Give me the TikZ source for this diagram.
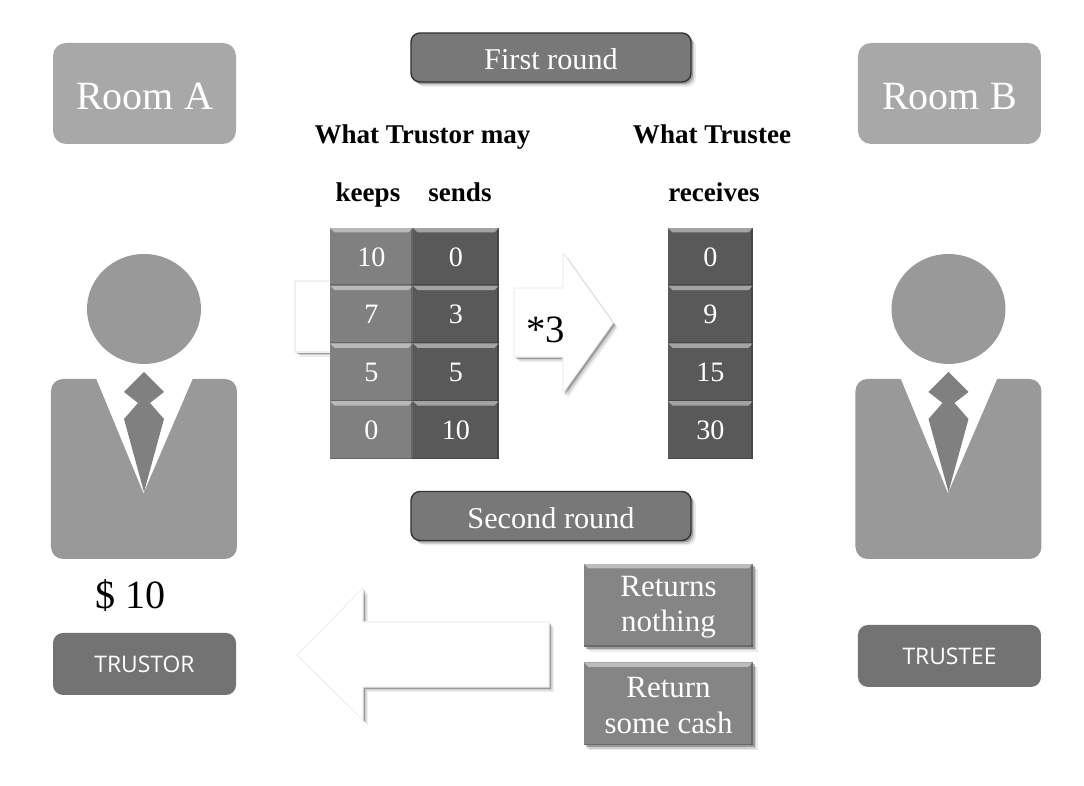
\documentclass[tikz,border=0pt]{standalone}
\usepackage{fontspec}
\setmainfont{Liberation Serif}
\newfontfamily\labelfont{Open Sans}
\usetikzlibrary{shadows}
\definecolor{roomgray}{gray}{0.66}
\definecolor{bodygray}{gray}{0.6}
\definecolor{tiegray}{gray}{0.5}
\definecolor{headgray}{gray}{0.47}
\definecolor{keepgray}{gray}{0.5}
\definecolor{sendgray}{gray}{0.35}
\definecolor{taggray}{gray}{0.45}
\tikzset{
    softshadow/.style={
        drop shadow={shadow xshift=0.05cm,shadow yshift=-0.05cm,opacity=0.07,fill=black},
        drop shadow={shadow xshift=0.035cm,shadow yshift=-0.035cm,opacity=0.12,fill=black},
        drop shadow={shadow xshift=0.02cm,shadow yshift=-0.02cm,opacity=0.25,fill=black}},
    roombox/.style={rounded corners=0.13cm,fill=roomgray,text=white,minimum width=1.83cm,minimum height=1.01cm,inner sep=0pt,font=\fontsize{11.4}{13}\selectfont},
    tagbox/.style={rounded corners=0.1cm,fill=taggray,text=white,minimum width=1.83cm,minimum height=0.62cm,inner sep=0pt,font=\labelfont\fontsize{6.5}{8}\selectfont},
    headbox/.style={rounded corners=0.09cm,draw=black!80,fill=headgray,text=white,minimum width=2.8cm,minimum height=0.49cm,inner sep=0pt,font=\fontsize{8.6}{10}\selectfont,softshadow},
    tile/.style={fill=#1,text=white,minimum height=0.58cm,inner sep=0pt,font=\fontsize{8}{10}\selectfont,
        path picture={
            \fill[white,opacity=0.45] (path picture bounding box.north west) -- (path picture bounding box.north east)
                -- ([xshift=-0.045cm,yshift=-0.045cm]path picture bounding box.north east) -- ([xshift=0.045cm,yshift=-0.045cm]path picture bounding box.north west) -- cycle;
            \fill[black,opacity=0.2] (path picture bounding box.north east) rectangle ([xshift=-0.02cm]path picture bounding box.south east);
            \fill[black,opacity=0.2] (path picture bounding box.south west) rectangle ([yshift=0.015cm]path picture bounding box.south east);
        }},
    returnbox/.style={tile=headgray!90,minimum width=1.69cm,minimum height=0.83cm,align=center,font=\fontsize{8.8}{10.2}\selectfont,softshadow},
    whitearrow/.style={fill=white,draw=black!6,line width=0.3pt,softshadow},
    title/.style={font=\bfseries\fontsize{7.7}{9}\selectfont,inner sep=0pt,anchor=base}
}
\newcommand{\lowered}[2]{\raisebox{#1}[0pt][0pt]{#2}}
\begin{document}
\begin{tikzpicture}
    \useasboundingbox (0,-7.86) rectangle (10.84,0);
    \fill[white] (0,-7.86) rectangle (10.84,0);
    % rooms
    \node[roombox] (roomA) at (1.445,-0.935) {\lowered{-0.16cm}{Room A}};
    \node[roombox] (roomB) at (9.495,-0.935) {\lowered{-0.16cm}{Room B}};
    % both persons
    \foreach \px/\pname in {0/trustor,8.045/trustee}{
        \begin{scope}[xshift=\px cm]
            \fill[bodygray] (1.44,-3.09) ellipse (0.57 and 0.55);
            \fill[bodygray,rounded corners=0.12cm] (0.51,-3.79) rectangle (2.37,-5.59);
            \fill[white] (0.96,-3.78) -- (1.435,-4.93) -- (1.93,-3.78) -- cycle;
            \fill[tiegray] (1.44,-3.72) -- (1.64,-3.92) -- (1.5,-4.03) -- (1.64,-4.19) -- (1.44,-4.92) -- (1.24,-4.19) -- (1.38,-4.03) -- (1.24,-3.92) -- cycle;
        \end{scope}
    }
    \node[tagbox] (trustor) at (1.445,-6.64) {TRUSTOR};
    \node[tagbox] (trustee) at (9.495,-6.56) {TRUSTEE};
    \node[font=\fontsize{11.4}{13}\selectfont,inner sep=0pt] (cash) at (1.305,-5.96) {\$ 10};
    % round headers
    \node[headbox] (first) at (5.51,-0.575) {\lowered{-0.12cm}{First round}};
    \node[headbox] (second) at (5.51,-5.16) {\lowered{-0.13cm}{Second round}};
    % column titles
    \node[title] (trustormay) at (4.225,-1.44) {What Trustor may};
    \node[title] (trusteemay) at (7.12,-1.44) {What Trustee};
    \node[title] (keeps) at (3.68,-2.02) {keeps};
    \node[title] (sends) at (4.6,-2.02) {sends};
    \node[title] (receives) at (7.14,-2.02) {receives};
    % white box behind the table
    \draw[whitearrow] (2.95,-2.81) rectangle (3.4,-3.52);
    % table
    \foreach \y/\k/\s/\r in {1/10/0/0,2/7/3/9,3/5/5/15,4/0/10/30}{
        \node[tile=keepgray,minimum width=0.83cm] (keep\y) at (3.715,-1.99-0.578*\y) {\k};
        \node[tile=sendgray,minimum width=0.86cm] (send\y) at (4.56,-1.99-0.578*\y) {\s};
        \node[tile=sendgray,minimum width=0.85cm] (recv\y) at (7.105,-1.99-0.578*\y) {\r};
    }
    % arrows
    \draw[whitearrow] (5.14,-2.88) -- (5.63,-2.88) -- (5.63,-2.53) -- (6.13,-3.23) -- (5.63,-3.93) -- (5.63,-3.57) -- (5.14,-3.57) -- cycle;
    \node[font=\fontsize{11}{13}\selectfont,inner sep=0pt] (times) at (5.46,-3.3) {*3};
    \draw[whitearrow] (2.97,-6.55) -- (3.63,-5.88) -- (3.63,-6.22) -- (5.49,-6.22) -- (5.49,-6.87) -- (3.63,-6.87) -- (3.63,-7.2) -- cycle;
    % answers
    \node[returnbox] (nothing) at (6.685,-6.055) {\\[-0.12cm]Returns\\nothing};
    \node[returnbox] (some) at (6.685,-7.04) {\\[-0.12cm]Return\\some cash};
\end{tikzpicture}
\end{document}
